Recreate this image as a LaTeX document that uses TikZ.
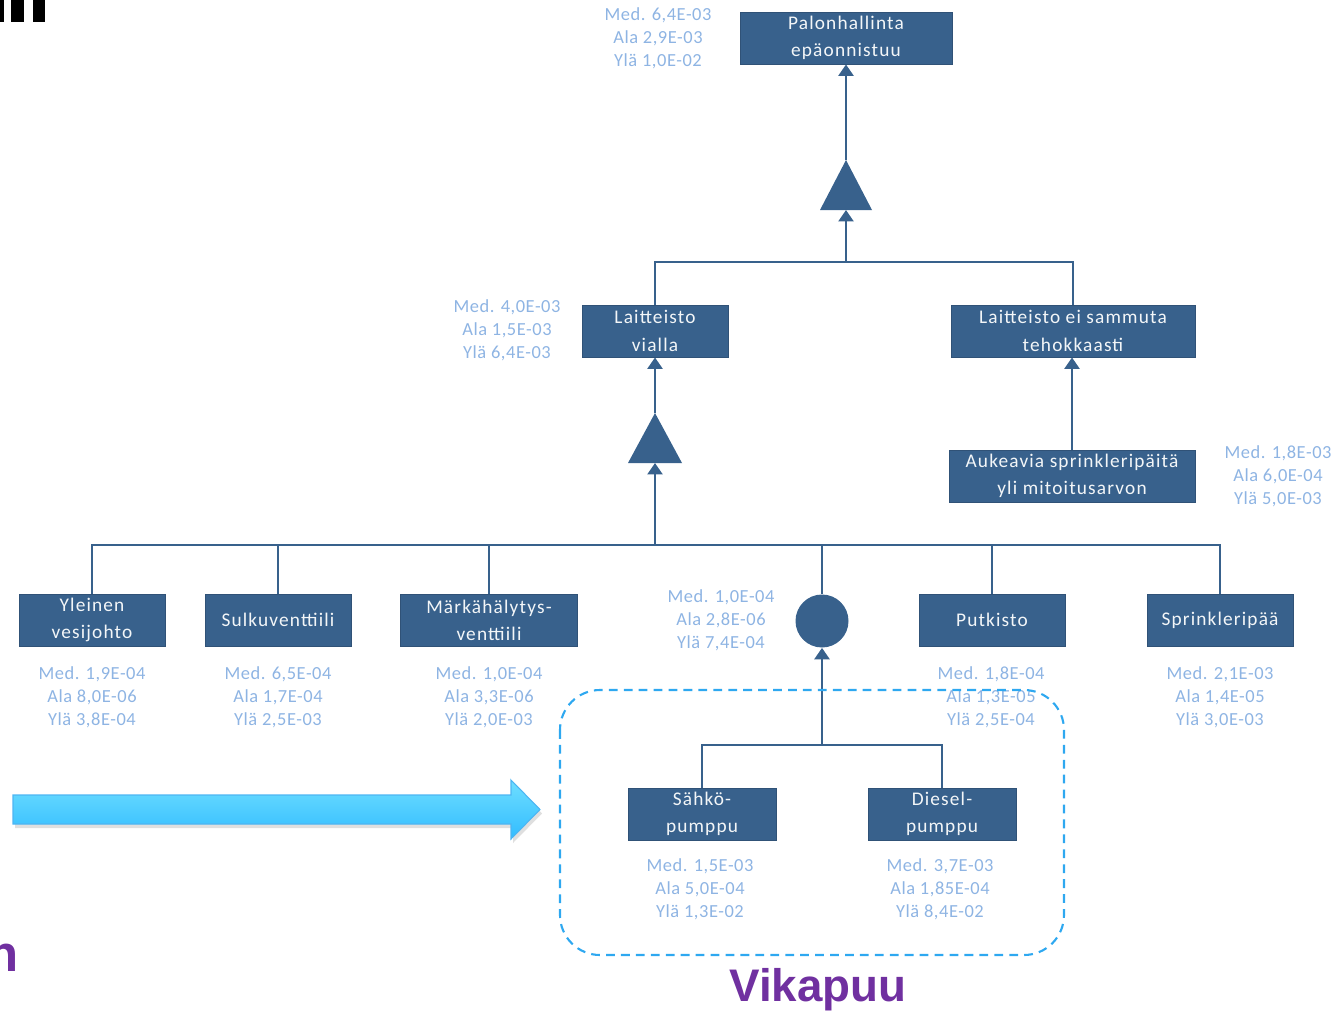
\documentclass[tikz,border=0pt]{standalone}
\usepackage{fontspec}
\setmainfont{Carlito}
\newfontfamily\arialfont{Liberation Sans}
\usepackage{tikz}
\usetikzlibrary{arrows.meta,calc,positioning}

\definecolor{puusin}{RGB}{56,97,140}
\definecolor{arvosin}{RGB}{142,180,227}
\definecolor{rajasin}{RGB}{46,168,240}
\definecolor{violetti}{RGB}{112,48,160}
\definecolor{nuolivaal}{RGB}{110,222,255}
\definecolor{nuolitumm}{RGB}{50,188,255}

\tikzset{
  tapahtuma/.style={draw=puusin!85!black, line width=0.5pt, fill=puusin, text=white!94!puusin,
    minimum width=2.92cm, minimum height=1.04cm, align=center, inner sep=1pt,
    font=\addfontfeatures{LetterSpace=6}\fontsize{11}{15.5}\selectfont},
  arvot/.style={text=arvosin, align=center, inner sep=0pt,
    font=\addfontfeatures{LetterSpace=3}\fontsize{10.5}{13.2}\selectfont},
  yhteys/.style={draw=puusin, line width=1.4pt},
  nuoli/.style={yhteys, -{Triangle[length=6.5pt,width=8.5pt]}},
  taiportti/.style={circle, fill=puusin, minimum size=1.06cm, inner sep=0pt},
}

\begin{document}
\begin{tikzpicture}[x=0.02cm, y=-0.02cm]
        \useasboundingbox (0,0) rectangle (1339,1014);

        % Ritagli ai bordi
        \fill (0,0) rectangle (4,22);
        \fill (11,0) rectangle (24,22);
        \fill (33,0) rectangle (45,22);
        \node[text=violetti, font=\arialfont\bfseries\fontsize{29}{32}\selectfont, anchor=base east, inner sep=0pt] (katkennut) at (19,971) {n};

        % Eventi
        \node[tapahtuma, minimum width=4.24cm] (huippu) at (846,38) {Palonhallinta\\epäonnistuu};
        \node[tapahtuma] (vialla) at (655,331) {Laitteisto\\vialla};
        \node[tapahtuma, minimum width=4.88cm] (tehokk) at (1073,331) {Laitteisto ei sammuta\\tehokkaasti};
        \node[tapahtuma, minimum width=4.92cm] (aukeavia) at (1072,476) {Aukeavia sprinkleripäitä\\yli mitoitusarvon};
        \node[tapahtuma] (yleinen) at (92,620) {Yleinen\\vesijohto};
        \node[tapahtuma] (sulku) at (278,620) {Sulkuventtiili};
        \node[tapahtuma, minimum width=3.54cm] (marka) at (489,620) {Märkähälytys-\\venttiili};
        \node[tapahtuma] (putkisto) at (992,620) {Putkisto};
        \node[tapahtuma] (sprinkleri) at (1220,620) {Sprinkleripää};
        \node[tapahtuma, minimum width=2.96cm] (sahko) at (702,814) {Sähkö-\\pumppu};
        \node[tapahtuma, minimum width=2.96cm] (diesel) at (942,814) {Diesel-\\pumppu};

        % Porte
        \coordinate (andA) at (846,210);
        \coordinate (andAtop) at (846,160);
        \fill[puusin] ($(andA)+(-26,0)$) -- ($(andA)+(26,0)$) -- (andAtop) -- cycle;
        \coordinate (andB) at (655,463);
        \coordinate (andBtop) at (655,413);
        \fill[puusin] ($(andB)+(-27,0)$) -- ($(andB)+(27,0)$) -- (andBtop) -- cycle;
        \node[taiportti] (taiA) at (822,621) {};

        % Collegamenti
        \coordinate (haaraA) at (846,262);
        \draw[yhteys] (vialla.north) |- (haaraA) -| (tehokk.north);
        \draw[nuoli] (haaraA) -- (andA);
        \draw[nuoli] (andAtop) -- (huippu.south);
        \draw[nuoli] (aukeavia.north) -- (aukeavia.north |- tehokk.south);

        \coordinate (haaraB) at (655,545);
        \foreach \n in {yleinen,sulku,marka,taiA,putkisto,sprinkleri}
          \draw[yhteys] (\n.north) |- (haaraB);
        \draw[nuoli] (haaraB) -- (andB);
        \draw[nuoli] (andBtop) -- (vialla.south);

        \coordinate (haaraC) at (822,745);
        \draw[yhteys] (sahko.north) |- (haaraC) -| (diesel.north);
        \draw[nuoli] (haaraC) -- (taiA.south);

        % Valori
        \node[arvot] (arvoHuippu) at (658,38) {Med. 6,4E-03\\Ala 2,9E-03\\Ylä 1,0E-02};
        \node[arvot] (arvoVialla) at (507,330) {Med. 4,0E-03\\Ala 1,5E-03\\Ylä 6,4E-03};
        \node[arvot] (arvoAukeavia) at (1278,476) {Med. 1,8E-03\\Ala 6,0E-04\\Ylä 5,0E-03};
        \node[arvot] (arvoTai) at (721,620) {Med. 1,0E-04\\Ala 2,8E-06\\Ylä 7,4E-04};
        \node[arvot] (arvoYleinen) at (92,697) {Med. 1,9E-04\\Ala 8,0E-06\\Ylä 3,8E-04};
        \node[arvot] (arvoSulku) at (278,697) {Med. 6,5E-04\\Ala 1,7E-04\\Ylä 2,5E-03};
        \node[arvot] (arvoMarka) at (489,697) {Med. 1,0E-04\\Ala 3,3E-06\\Ylä 2,0E-03};
        \node[arvot] (arvoPutkisto) at (991,697) {Med. 1,8E-04\\Ala 1,3E-05\\Ylä 2,5E-04};
        \node[arvot] (arvoSprinkleri) at (1220,697) {Med. 2,1E-03\\Ala 1,4E-05\\Ylä 3,0E-03};
        \node[arvot] (arvoSahko) at (700,889) {Med. 1,5E-03\\Ala 5,0E-04\\Ylä 1,3E-02};
        \node[arvot] (arvoDiesel) at (940,889) {Med. 3,7E-03\\Ala 1,85E-04\\Ylä 8,4E-02};

        % Riquadro tratteggiato
        \draw[rajasin, line width=1.2pt, dash pattern=on 5pt off 3.5pt, rounded corners=0.8cm] (560,690) rectangle (1064,955);

        % Freccia
        \fill[black!25, opacity=0.5] (15,799) -- (513,799) -- (513,784) -- (542,813.5) -- (513,843) -- (513,828) -- (15,828) -- cycle;
        \shade[top color=nuolivaal, bottom color=nuolitumm, draw=rajasin!85, line width=0.6pt]
          (13,795) -- (511,795) -- (511,780) -- (540,809.5) -- (511,839) -- (511,824) -- (13,824) -- cycle;

        \node[text=violetti, font=\arialfont\bfseries\fontsize{26}{30}\selectfont] (otsikko) at (818,990) {Vikapuu};
\end{tikzpicture}
\end{document}
